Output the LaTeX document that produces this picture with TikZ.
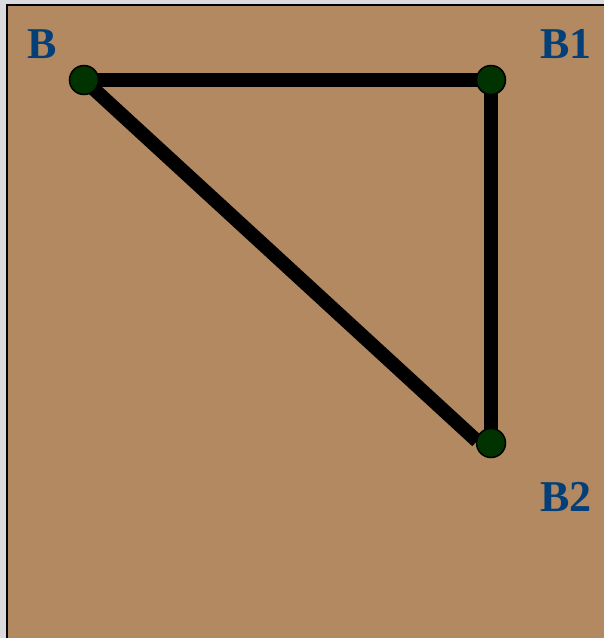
\documentclass[tikz,border=0pt]{standalone}
\usepackage{fontspec}
\setmainfont{Liberation Serif}
\usetikzlibrary{calc,backgrounds}
\definecolor{bgray}{HTML}{DADADF}
\definecolor{brownbg}{HTML}{B38962}
\definecolor{nodegreen}{HTML}{003300}
\definecolor{lblue}{HTML}{053F78}
\begin{document}
\begin{tikzpicture}[x=1pt,y=-1pt,
  vtx/.style={circle,fill=nodegreen,draw=black,line width=1.5pt,minimum size=29pt,inner sep=0pt},
  edge/.style={line width=14pt,black},
  lbl/.style={text=lblue,font=\fontsize{44}{44}\selectfont\bfseries,inner sep=0pt}]
\useasboundingbox (0,0) rectangle (604,638);
\node[vtx] (B) at (84,80) {};
\node[vtx] (B1) at (491,80) {};
\node[vtx] (B2) at (491,443) {};
\begin{scope}[on background layer]
\fill[bgray] (0,0) rectangle (604,638);
\fill[brownbg] (7,5) rectangle (606,640);
\draw[black,line width=2pt] (7,640) -- (7,5) -- (606,5);
\draw[edge] (B.center) -- (B1.center);
\draw[edge] (B1.center) -- (B2.center);
\draw[edge] (B.center) -- ($(B2.center)+(-14,-2)$);
\end{scope}
\node[lbl] (LB) at (42,44) {B};
\node[lbl] (LB1) at (566,44) {B1};
\node[lbl] (LB2) at (566,497) {B2};
\end{tikzpicture}
\end{document}
